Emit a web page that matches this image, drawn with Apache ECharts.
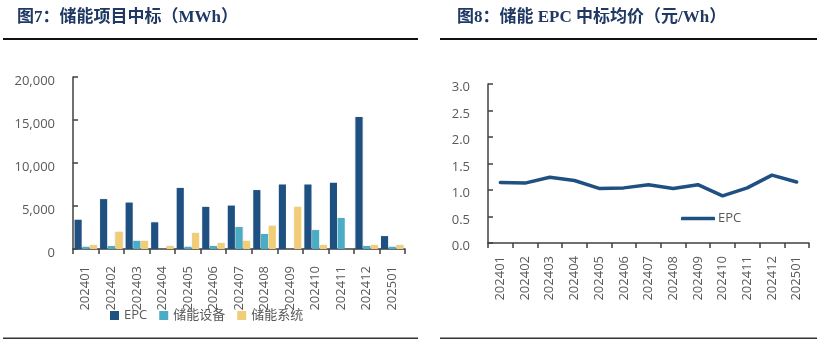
<!DOCTYPE html>
<html>
<head>
<meta charset="utf-8">
<script src="https://cdn.jsdelivr.net/npm/echarts@6/dist/echarts.min.js"></script>
<style>
html,body{margin:0;padding:0;background:#fff;}
#c{width:831px;height:345px;}
</style>
</head>
<body>
<div id="c"></div>
<script>
const months = ['202401','202402','202403','202404','202405','202406','202407','202408','202409','202410','202411','202412','202501'];
const epcMWh = [3400, 5800, 5400, 3100, 7100, 4900, 5050, 6850, 7500, 7500, 7700, 15350, 1500];
const equipMWh = [250, 350, 950, 0, 250, 350, 2550, 1750, 0, 2200, 3600, 350, 250];
const systemMWh = [450, 2000, 950, 350, 1850, 700, 950, 2700, 4900, 450, 0, 450, 450];
const epcPrice = [1.14, 1.13, 1.24, 1.18, 1.03, 1.04, 1.10, 1.03, 1.10, 0.89, 1.04, 1.28, 1.15];
const leftTicks = [0, 5000, 10000, 15000, 20000];
const rightTicks = [0, 0.5, 1.0, 1.5, 2.0, 2.5, 3.0];

const labelColor = '#595959';
const axisColor = '#404040';
const font = "'Open Sans', 'Noto Sans CJK SC', sans-serif";
const titleFont = "'Liberation Serif', 'Noto Sans CJK SC', serif";

const chart = echarts.init(document.getElementById('c'), null, {renderer: 'canvas'});

const barShadow = {shadowBlur: 1.5, shadowColor: 'rgba(0,0,0,0.18)'};

chart.setOption({
  backgroundColor: '#fff',
  animation: false,
  textStyle: {fontFamily: font},
  title: [
    {text: '图7：储能项目中标（MWh）', left: 12, top: 4,
     textStyle: {fontFamily: titleFont, fontWeight: 'bold', fontSize: 17, color: '#1F3864'}},
    {text: '图8：储能 EPC 中标均价（元/Wh）', left: 452, top: 4,
     textStyle: {fontFamily: titleFont, fontWeight: 'bold', fontSize: 17, color: '#1F3864'}}
  ],
  graphic: [
    {type: 'rect', shape: {x: 3, y: 38, width: 415, height: 2}, style: {fill: '#111'}},
    {type: 'rect', shape: {x: 440, y: 38, width: 377, height: 2}, style: {fill: '#111'}},
    {type: 'rect', shape: {x: 3, y: 337.5, width: 415, height: 1.5}, style: {fill: '#333'}},
    {type: 'rect', shape: {x: 440, y: 337.5, width: 377, height: 1.5}, style: {fill: '#333'}}
  ],
  legend: [
    {data: ['EPC', '储能设备', '储能系统'], left: 105, top: 304, itemWidth: 9, itemHeight: 9,
     itemGap: 12, icon: 'rect', textStyle: {fontSize: 13, color: labelColor, fontFamily: font}},
    {data: [{name: 'EPC价', icon: 'roundRect'}], left: 676, top: 207, itemWidth: 34, itemHeight: 3.5,
     formatter: function(){ return 'EPC'; },
     itemGap: 3, textStyle: {fontSize: 13, color: labelColor, fontFamily: font, padding: [0,0,0,-2]}}
  ],
  grid: [
    {left: 73, top: 77, width: 332, height: 172},
    {left: 488, top: 84, width: 321, height: 159}
  ],
  xAxis: [
    {type: 'category', gridIndex: 0, data: months, boundaryGap: true,
     axisLine: {lineStyle: {color: axisColor, width: 1.5}},
     axisTick: {show: true, inside: false, length: 5, lineStyle: {color: axisColor, width: 1.5}},
     axisLabel: {rotate: 90, margin: 17, fontSize: 13, color: labelColor, interval: 0}},
    {type: 'category', gridIndex: 1, data: months, boundaryGap: true,
     axisLine: {lineStyle: {color: axisColor, width: 1.5}},
     axisTick: {show: true, inside: false, length: 5, lineStyle: {color: axisColor, width: 1.5}},
     axisLabel: {rotate: 90, margin: 13, fontSize: 13, color: labelColor, interval: 0}}
  ],
  yAxis: [
    {type: 'value', gridIndex: 0, min: leftTicks[0], max: leftTicks[leftTicks.length-1], interval: 5000,
     splitLine: {show: false},
     axisLine: {show: true, lineStyle: {color: axisColor, width: 1.5}},
     axisTick: {show: true, inside: true, length: 5, lineStyle: {color: axisColor, width: 1.5}},
     axisLabel: {margin: 18, fontSize: 13, color: labelColor, verticalAlign: 'top', lineHeight: 8,
       formatter: function(v){ return v.toLocaleString('en-US'); }}},
    {type: 'value', gridIndex: 1, min: rightTicks[0], max: rightTicks[rightTicks.length-1], interval: 0.5,
     splitLine: {show: false},
     axisLine: {show: true, lineStyle: {color: axisColor, width: 1.5}},
     axisLabel: {margin: 18, fontSize: 13, color: labelColor, verticalAlign: 'top', lineHeight: 7,
       formatter: function(v){ return v.toFixed(1); }},
     axisTick: {show: true, inside: true, length: 5, lineStyle: {color: axisColor, width: 1.5}}}
  ],
  series: [
    {name: 'EPC', type: 'bar', xAxisIndex: 0, yAxisIndex: 0, data: epcMWh,
     barCategoryGap: '12%', barGap: '8%', itemStyle: Object.assign({color: '#1F5082'}, barShadow)},
    {name: '储能设备', type: 'bar', xAxisIndex: 0, yAxisIndex: 0, data: equipMWh,
     barCategoryGap: '12%', barGap: '8%', itemStyle: Object.assign({color: '#4BACC6'}, barShadow)},
    {name: '储能系统', type: 'bar', xAxisIndex: 0, yAxisIndex: 0, data: systemMWh,
     barCategoryGap: '12%', barGap: '8%', itemStyle: Object.assign({color: '#F0CD76'}, barShadow)},
    {name: 'EPC价', type: 'line', xAxisIndex: 1, yAxisIndex: 1, data: epcPrice,
     symbol: 'none', lineStyle: {color: '#1F5082', width: 3.5, cap: 'round', join: 'round'},
     itemStyle: {color: '#1F5082'}}
  ]
});
</script>
</body>
</html>
